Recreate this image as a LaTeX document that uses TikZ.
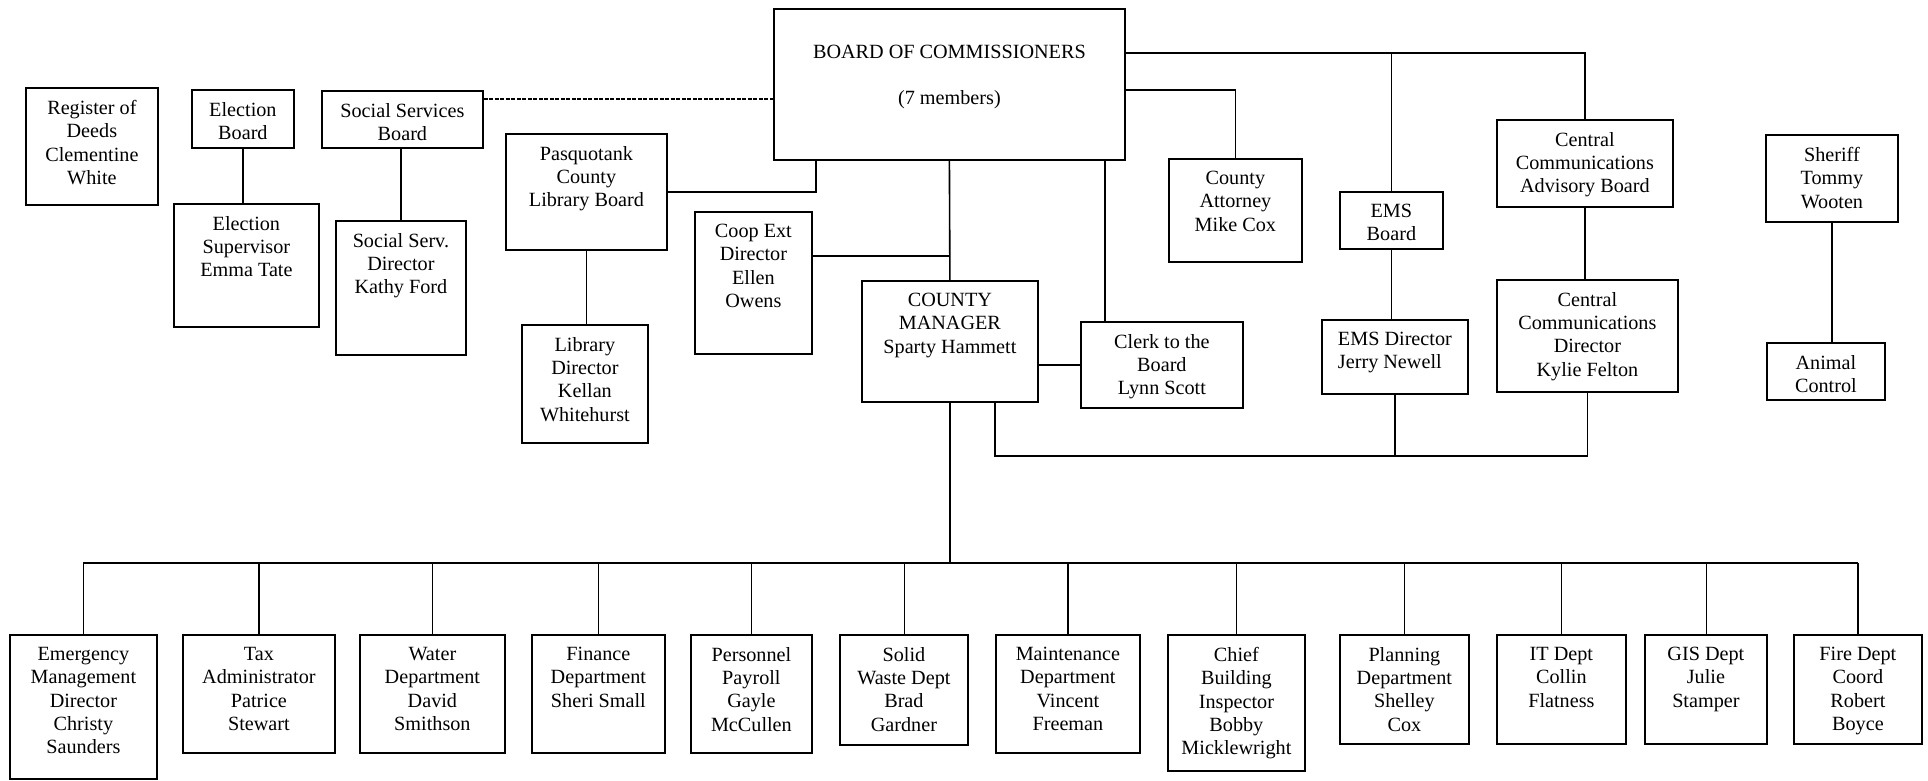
\documentclass[tikz,border=0pt]{standalone}
\usepackage{fontspec}
\setmainfont{Liberation Serif}
\usepackage{tikz}
\tikzset{
  unit/.style={draw, line width=1.8pt, anchor=north west, inner sep=0pt},
  txt/.style={anchor=north, yshift=-13pt, align=center, inner sep=0pt},
  link/.style={line width=1.6pt},
  hairline/.style={line width=0.8pt},
  dashlink/.style={line width=1.2pt, dash pattern=on 4pt off 1.5pt}
}

\begin{document}
\begin{tikzpicture}[x=1pt,y=-1pt,font=\fontsize{20.2}{23.3}\selectfont]
\useasboundingbox (0,0) rectangle (1928,780);
% boards and offices round the commissioners
\node[unit, minimum width=351pt, minimum height=151pt] (board) at (773,8) {};
\node[txt, yshift=-23.5pt] (board-t) at (board.north) {BOARD OF COMMISSIONERS\\[23.3pt](7 members)};
\foreach \n/\x/\y/\w/\h/\txt in {
  reg/25/87/132/117/Register of\\Deeds\\Clementine\\White,
  elecbd/191/89/102/58/Election\\Board,
  elecsup/173/203/145/123/Election\\Supervisor\\Emma Tate,
  ssbd/321/90/161/57/Social Services\\Board,
  ssdir/335/220/130/134/Social Serv.\\Director\\Kathy Ford,
  libbd/505/133/161/116/Pasquotank\\County\\Library Board,
  libdir/521/324/126/118/Library\\Director\\Kellan\\Whitehurst,
  coop/694/211/117/142/Coop Ext\\Director\\Ellen\\Owens,
  mgr/861/280/176/121/COUNTY\\MANAGER\\Sparty Hammett,
  clerk/1080/321/162/86/Clerk to the\\Board\\Lynn Scott,
  atty/1168/158/133/103/County\\Attorney\\Mike Cox,
  emsbd/1339/191/103/57/EMS\\Board,
  ccab/1496/119/176/87/Central\\Communications\\Advisory Board,
  ccdir/1496/279/181/112/Central\\Communications\\Director\\Kylie Felton,
  sheriff/1765/134/132/87/Sheriff\\Tommy\\Wooten,
  animal/1766/342/118/57/Animal\\Control
}{
  \node[unit, minimum width=\w pt, minimum height=\h pt] (\n) at (\x,\y) {};
  \node[txt] (\n-t) at (\n.north) {\txt};
}
\node[unit, minimum width=146pt, minimum height=74pt] (emsdir) at (1321,319) {};
\node[txt, align=left] (emsdir-t) at (emsdir.north) {EMS Director\\Jerry Newell};
% departments under the manager
\foreach \n/\x/\w/\h/\txt in {
  emd/9/147/144/Emergency\\Management\\Director\\Christy\\Saunders,
  tax/182/152/118/Tax\\Administrator\\Patrice\\Stewart,
  water/359/145/118/Water\\Department\\David\\Smithson,
  finance/531/133/118/Finance\\Department\\Sheri Small,
  personnel/690/121/118/Personnel\\Payroll\\Gayle\\McCullen,
  waste/839/128/110/Solid\\Waste Dept\\Brad\\Gardner,
  maint/995/144/118/Maintenance\\Department\\Vincent\\Freeman,
  bldg/1167/137/136/Chief\\Building\\Inspector\\Bobby\\Micklewright,
  planning/1339/129/109/Planning\\Department\\Shelley\\Cox,
  itdept/1496/129/109/IT Dept\\Collin\\Flatness,
  gis/1644/122/109/GIS Dept\\Julie\\Stamper,
  fire/1793/128/109/Fire Dept\\Coord\\Robert\\Boyce
}{
  \node[unit, minimum width=\w pt, minimum height=\h pt] (\n) at (\x,634) {};
  \node[txt] (\n-t) at (\n.north) {\txt};
}

% upper links
\draw[link] (elecbd.south) -- (elecbd.south |- elecsup.north);
\draw[link] (ssdir.north) -- (ssdir.north |- ssbd.south);
\coordinate (dashA) at ([yshift=-9pt]ssbd.north east);
\draw[dashlink] (dashA) -- (dashA -| board.west);
\draw[link] (libbd.east) -| ([xshift=43pt]board.south west);
\draw[link] (libbd.south) -- (libbd.south |- libdir.north);
\draw[link] (board.south) -- (mgr.north);
\coordinate (coopA) at ([yshift=-45pt]coop.north east);
\draw[link] (coopA) -- (coopA -| mgr.north);
\draw[link] (clerk.west) -- (clerk.west -| mgr.east);
\coordinate (clerkA) at ([xshift=25pt]clerk.north west);
\draw[link] (clerkA) -- (clerkA |- board.south);
\draw[link] ([yshift=-82pt]board.north east) -| (atty.north);
\coordinate (topbus) at ([yshift=-45pt]board.north east);
\draw[link] (topbus) -| (ccab.north);
\draw[link] (emsbd.north) -- (emsbd.north |- topbus);
\draw[hairline] (emsbd.south) -- (emsbd.south |- emsdir.north);
\draw[link] (ccab.south) -- (ccab.south |- ccdir.north);
\coordinate (mgrtap) at ([xshift=45pt]mgr.south);
\coordinate (lowbus) at ([yshift=-53pt]mgrtap);
\draw[link] (mgrtap) -- (lowbus) -| (ccdir.south);
\draw[link] (emsdir.south) -- (emsdir.south |- lowbus);
\draw[link] (sheriff.south) -- (sheriff.south |- animal.north);

% lower links
\coordinate (deptbus) at ([yshift=-160pt]mgr.south);
\draw[link] (mgr.south) -- (deptbus);
\draw[link] (emd.north |- deptbus) -- (fire.north |- deptbus);
\foreach \n/\s in {emd/link, tax/link, water/hairline, finance/link, personnel/link,
  waste/hairline, maint/link, bldg/link, planning/hairline, itdept/link, gis/hairline, fire/link}
  \draw[\s] (\n.north |- deptbus) -- (\n.north);
\end{tikzpicture}
\end{document}
